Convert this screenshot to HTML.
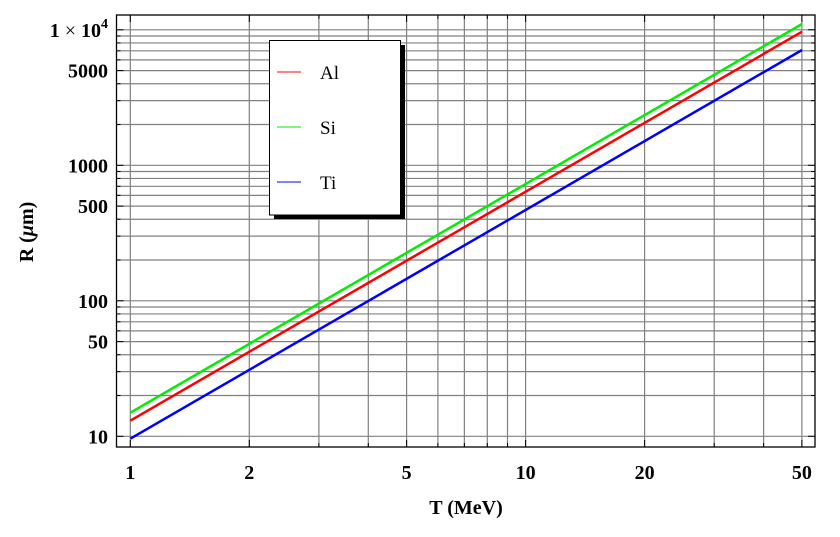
<!DOCTYPE html>
<html><head><meta charset="utf-8"><style>
body{margin:0;background:#fff}
svg text{font-family:"Liberation Serif",serif}
</style></head><body>
<svg id="s" width="840" height="532" viewBox="0 0 840 532" xmlns="http://www.w3.org/2000/svg">
<rect width="840" height="532" fill="#fff"/>
<g id="grid" stroke="#808080" stroke-width="1.2"></g>
<g id="ticks" stroke="#000" stroke-width="1"></g>
<line x1="130.3" y1="420.7" x2="802" y2="31.7" stroke="#f00" stroke-width="2.5"/>
<line x1="130.3" y1="412.7" x2="802" y2="24" stroke="#0e0" stroke-width="2.5"/>
<line x1="130.3" y1="438.7" x2="802" y2="50" stroke="#00f" stroke-width="2.5"/>
<rect x="116.5" y="15" width="698.5" height="432" fill="none" stroke="#000" stroke-width="1.3"/>
<rect x="274" y="45" width="131" height="174" fill="#000"/>
<rect x="269.5" y="40.5" width="131" height="174.5" fill="#fff" stroke="#000" stroke-width="1"/>
<line x1="277" y1="72" x2="301" y2="72" stroke="#f00" stroke-width="1"/>
<line x1="277" y1="127" x2="301" y2="127" stroke="#0e0" stroke-width="1"/>
<line x1="277" y1="182" x2="301" y2="182" stroke="#00f" stroke-width="1"/>
<g font-size="19" fill="#000">
<text x="320" y="79">Al</text>
<text x="320" y="134">Si</text>
<text x="320" y="189">Ti</text>
</g>
<g id="labels" font-size="20" font-weight="bold" fill="#000"></g>
<text x="466" y="514" font-size="20" font-weight="bold" text-anchor="middle">T (MeV)</text>
<text transform="translate(33,232) rotate(-90)" font-size="20" font-weight="bold" text-anchor="middle">R (<tspan font-style="italic">μ</tspan>m)</text>
</svg>
<script>
var ns="http://www.w3.org/2000/svg";
function X(v){return 130.3+395.3*Math.log10(v);}
function Y(v){return 436.3-135.5*(Math.log10(v)-1);}
var g=document.getElementById('grid'),t=document.getElementById('ticks'),L=document.getElementById('labels');
function ln(p,a,b,c,d){var e=document.createElementNS(ns,'line');e.setAttribute('x1',a);e.setAttribute('y1',b);e.setAttribute('x2',c);e.setAttribute('y2',d);p.appendChild(e);}
function tx(s,x,y,anc){var e=document.createElementNS(ns,'text');e.setAttribute('x',x);e.setAttribute('y',y);e.setAttribute('text-anchor',anc);e.innerHTML=s;L.appendChild(e);}
var xs=[1,2,3,4,5,6,7,8,9,10,20,30,40,50];
xs.forEach(function(v){var x=X(v);ln(g,x,15,x,447);var major=[1,2,5,10,20,50].indexOf(v)>=0;var l=major?7:4;ln(t,x,447,x,447-l);ln(t,x,15,x,15+l);});
var ys=[];for(var d=10;d<=10000;d*=10){for(var k=1;k<10;k++){var v=d*k;if(v<=12800)ys.push(v);}}
ys.forEach(function(v){var y=Y(v);if(y<15||y>447)return;ln(g,116.5,y,815,y);var major=[10,50,100,500,1000,5000,10000].indexOf(v)>=0;var l=major?7:4;ln(t,116.5,y,116.5+l,y);ln(t,815,y,815-l,y);});
[[1,'1'],[2,'2'],[5,'5'],[10,'10'],[20,'20'],[50,'50']].forEach(function(a){tx(a[1],X(a[0]),479,'middle');});
[[10,'10'],[50,'50'],[100,'100'],[500,'500'],[1000,'1000'],[5000,'5000']].forEach(function(a){tx(a[1],108,Y(a[0])+7,'end');});
tx('1<tspan font-weight="normal"> × </tspan>10<tspan dy="-9" font-size="14">4</tspan>',108,Y(10000)+7,'end');
</script>
</body></html>
